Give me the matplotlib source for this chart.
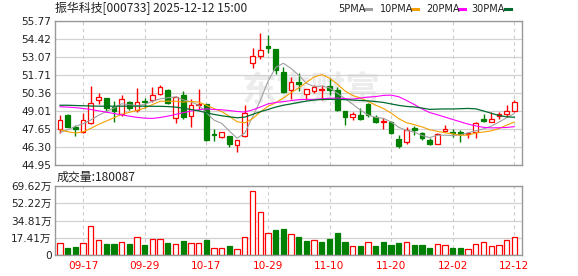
import matplotlib
matplotlib.use('Agg')
import matplotlib.pyplot as plt
from matplotlib.lines import Line2D

# --- data (振华科技 000733, daily, 2025-09-12 .. 2025-12-12) ---
date_ticks = [3, 11, 19, 27, 35, 43, 51, 59]
date_labels = ['09-17', '09-29', '10-17', '10-29', '11-10', '11-20', '12-02', '12-12']

opens = [47.63, 48.71, 47.80, 47.43, 48.08, 49.87, 49.96, 49.32, 48.80, 49.68,
	49.08, 49.77, 49.80, 50.32, 50.60, 48.46, 50.21, 48.60, 49.46, 49.53,
	47.25, 47.08, 47.13, 46.43, 47.13, 52.59, 53.14, 53.92, 53.67, 51.96,
	50.59, 51.21, 50.29, 50.53, 50.59, 50.86, 50.58, 49.01, 48.53, 48.71,
	49.51, 48.53, 48.18, 48.21, 46.90, 46.65, 47.71, 47.33, 46.83, 46.50,
	47.53, 47.46, 47.46, 47.25, 47.41, 48.41, 48.21, 48.66, 48.81, 49.03]
highs = [48.71, 48.77, 47.98, 48.83, 50.89, 50.36, 49.96, 49.77, 50.21, 49.73,
	50.71, 50.02, 50.83, 50.96, 50.66, 50.15, 50.52, 49.90, 50.64, 49.53,
	47.65, 47.45, 47.15, 46.83, 49.46, 53.72, 54.84, 54.72, 53.67, 52.34,
	51.59, 51.84, 50.66, 50.96, 50.96, 51.50, 50.84, 49.01, 48.96, 49.21,
	49.58, 48.71, 48.46, 48.28, 47.20, 47.83, 47.90, 47.45, 46.95, 47.33,
	47.96, 47.66, 47.58, 47.41, 48.16, 48.76, 48.96, 48.91, 49.46, 49.83]
lows = [47.33, 47.83, 47.13, 47.33, 48.03, 49.55, 48.96, 48.20, 48.60, 49.08,
	48.93, 49.21, 49.65, 50.21, 49.50, 48.10, 48.38, 47.80, 49.08, 46.78,
	46.78, 46.95, 46.33, 45.90, 47.08, 52.26, 52.89, 53.34, 51.76, 50.39,
	49.88, 50.53, 49.83, 50.33, 49.83, 50.20, 49.01, 47.96, 48.33, 48.33,
	48.58, 48.08, 47.65, 47.25, 46.20, 46.50, 47.20, 46.83, 46.45, 46.50,
	47.41, 47.08, 46.70, 46.95, 47.00, 48.21, 48.16, 48.41, 48.58, 48.96]
closes = [48.30, 47.83, 47.65, 48.30, 49.58, 50.05, 49.21, 49.03, 49.88, 49.22,
	49.71, 49.66, 50.21, 50.82, 49.60, 50.05, 48.58, 49.45, 49.53, 46.83,
	47.20, 47.40, 46.53, 46.83, 48.83, 53.14, 53.59, 53.72, 52.09, 50.46,
	51.21, 51.04, 50.66, 50.84, 50.64, 50.55, 49.08, 48.58, 48.76, 48.41,
	48.71, 48.21, 48.23, 47.33, 46.40, 47.58, 47.55, 47.00, 46.53, 47.25,
	47.63, 47.38, 47.25, 47.33, 48.08, 48.26, 48.41, 48.76, 49.01, 49.66]

ma5 = [47.40, 47.60, 47.85, 48.05, 48.33, 48.68, 48.96, 49.23, 49.55, 49.48,
	49.41, 49.50, 49.74, 49.92, 50.00, 50.07, 49.85, 49.70, 49.44, 48.89,
	48.32, 48.08, 47.50, 46.96, 47.36, 48.55, 49.78, 51.22, 52.27, 52.60,
	52.21, 51.70, 51.09, 50.84, 50.88, 50.75, 50.35, 49.94, 49.52, 49.08,
	48.71, 48.53, 48.46, 48.18, 47.78, 47.55, 47.42, 47.17, 47.01, 47.18,
	47.19, 47.16, 47.21, 47.37, 47.53, 47.66, 47.87, 48.17, 48.50, 48.82]
ma10 = [47.60, 47.45, 47.35, 47.45, 47.70, 48.00, 48.25, 48.50, 48.75, 48.91,
	49.05, 49.23, 49.49, 49.74, 49.74, 49.74, 49.68, 49.72, 49.68, 49.44,
	49.19, 48.97, 48.60, 48.20, 48.12, 48.43, 48.93, 49.36, 49.62, 49.98,
	50.38, 50.74, 51.16, 51.56, 51.74, 51.48, 51.03, 50.52, 50.18, 49.98,
	49.73, 49.44, 49.20, 48.85, 48.43, 48.13, 47.98, 47.82, 47.60, 47.48,
	47.37, 47.29, 47.19, 47.19, 47.36, 47.43, 47.51, 47.69, 47.94, 48.18]
ma20 = [49.33, 49.30, 49.26, 49.20, 49.12, 49.02, 48.92, 48.82, 48.72, 48.62,
	48.53, 48.47, 48.45, 48.52, 48.62, 48.75, 48.88, 49.00, 49.10, 49.17,
	49.12, 49.10, 49.04, 48.97, 48.93, 49.09, 49.30, 49.54, 49.65, 49.71,
	49.79, 49.86, 49.88, 49.88, 49.93, 49.96, 49.98, 49.94, 49.90, 49.98,
	50.05, 50.09, 50.18, 50.20, 50.08, 49.80, 49.50, 49.17, 48.89, 48.73,
	48.55, 48.37, 48.20, 48.02, 47.89, 47.78, 47.74, 47.75, 47.77, 47.83]
ma30 = [49.44, 49.44, 49.42, 49.40, 49.38, 49.37, 49.37, 49.37, 49.37, 49.37,
	49.37, 49.37, 49.36, 49.36, 49.34, 49.30, 49.22, 49.12, 49.02, 48.88,
	48.75, 48.65, 48.57, 48.50, 48.55, 48.75, 48.95, 49.12, 49.30, 49.44,
	49.54, 49.65, 49.75, 49.83, 49.87, 49.88, 49.88, 49.86, 49.83, 49.80,
	49.77, 49.72, 49.65, 49.54, 49.43, 49.35, 49.31, 49.23, 49.13, 49.15,
	49.16, 49.16, 49.18, 49.20, 49.17, 49.01, 48.84, 48.67, 48.57, 48.54]

# volume in 手, colour by close vs previous close (1 = up/red)
volumes = [118000, 74000, 81000, 118000, 296000, 148000, 111000, 111000, 128000, 111000,
	178000, 101000, 158000, 158000, 121000, 108000, 141000, 118000, 118000, 151000,
	67000, 67000, 91000, 57000, 178000, 643000, 431000, 219000, 252000, 262000,
	209000, 182000, 141000, 151000, 131000, 161000, 222000, 131000, 87000, 91000,
	128000, 91000, 131000, 101000, 118000, 128000, 101000, 101000, 74000, 108000,
	101000, 74000, 74000, 61000, 108000, 128000, 91000, 101000, 151000, 180087]
vol_up = [1, 0, 0, 1, 1, 1, 0, 0, 1, 0,
	1, 0, 1, 1, 0, 1, 0, 1, 1, 0,
	1, 1, 0, 1, 1, 1, 1, 1, 0, 0,
	1, 0, 0, 1, 0, 0, 0, 0, 1, 0,
	1, 0, 0, 0, 0, 1, 0, 0, 0, 1,
	1, 0, 0, 1, 1, 1, 1, 1, 1, 1]

price_ticks = [44.95, 46.30, 47.65, 49.01, 50.36, 51.71, 53.07, 54.42, 55.77]
vol_ticks = [0, 174050, 348100, 522150, 696200]
vol_tick_labels = ['0', '17.41万', '34.81万', '52.22万', '69.62万']

RED = '#ff0000'
GREEN = '#008000'
CJK = ['DejaVu Sans', 'Noto Sans CJK SC']

W, H = 578, 276
fig = plt.figure(figsize=(W / 100, H / 100), dpi=100)

def px_box(l, t, r, b):
	return [l / W, 1 - b / H, (r - l) / W, (b - t) / H]

ax1 = fig.add_axes(px_box(55, 21, 522, 165))
ax2 = fig.add_axes(px_box(55, 186, 522, 255))

x = list(range(len(closes)))

# watermark
ax1.text(0.55, 0.52, '东方财富', transform=ax1.transAxes, ha='center', va='center',
	fontsize=25, color='#ececec', family=['Noto Sans CJK SC'], weight='bold', zorder=0)

# candles
for i in x:
	up = closes[i] >= opens[i]
	col = RED if up else GREEN
	top = max(opens[i], closes[i])
	bot = min(opens[i], closes[i])
	ax1.vlines(i, lows[i], bot, color=col, lw=1.0, zorder=2)
	ax1.vlines(i, top, highs[i], color=col, lw=1.0, zorder=2)
	ax1.bar(i, max(top - bot, 0.01), bottom=bot, width=0.62,
		facecolor='white' if up else col, edgecolor=col, lw=0.9, zorder=2)

# moving averages
ax1.plot(x, ma5, color='#a0a0a0', lw=0.8, zorder=3)
ax1.plot(x, ma10, color='#f5a000', lw=0.8, zorder=3)
ax1.plot(x, ma20, color='#ff00ff', lw=0.8, zorder=3)
ax1.plot(x, ma30, color='#006b2f', lw=0.9, zorder=3)

# volume
for i in x:
	col = RED if vol_up[i] else GREEN
	ax2.bar(i, volumes[i], width=0.68, facecolor='white' if vol_up[i] else col,
		edgecolor=col, lw=0.9, zorder=2)

for ax in (ax1, ax2):
	ax.set_xlim(-0.65, 60.0)
	ax.set_xticks(date_ticks)
	ax.set_axisbelow(True)
	ax.grid(axis='y', color='#d2d2d2', lw=0.9, ls='-')
	ax.grid(axis='x', color='#cccccc', lw=0.8, ls=(0, (3, 3)))
	ax.tick_params(length=0, labelsize=7.6, pad=2.5, colors='#222222')
	for s in ax.spines.values():
		s.set_color('#999999')
		s.set_linewidth(1.0)

ax1.set_ylim(44.95, 55.77)
ax1.set_yticks(price_ticks)
ax1.set_yticklabels(['%.2f' % p for p in price_ticks])
ax1.set_xticklabels([])

ax2.set_ylim(0, 696200)
ax2.set_yticks(vol_ticks)
ax2.set_yticklabels(vol_tick_labels, family=CJK)
ax2.set_xticklabels(date_labels, color=RED)
ax2.tick_params(axis='x', pad=4, colors=RED)

# header texts
fig.text(55 / W, 1 - 8.5 / H, '振华科技[000733] 2025-12-12 15:00', va='center', ha='left',
	fontsize=8.6, family=['Noto Sans CJK SC', 'DejaVu Sans'], color='#222222')
fig.text(57 / W, 1 - 177.5 / H, '成交量:180087', va='center', ha='left',
	fontsize=8.6, family=['Noto Sans CJK SC', 'DejaVu Sans'], color='#222222')

# MA legend
legend = [('5PMA', '#a0a0a0', 338, 365), ('10PMA', '#f5a000', 380, 412),
	('20PMA', '#ff00ff', 426, 459), ('30PMA', '#006b2f', 471, 505)]
for label, col, tx, lx in legend:
	fig.text(tx / W, 1 - 9 / H, label, va='center', ha='left', fontsize=7,
		family='DejaVu Sans', color='#222222')
	fig.add_artist(Line2D([lx / W, (lx + 6) / W], [1 - 9 / H, 1 - 9 / H],
		color=col, lw=2.2, transform=fig.transFigure))

fig.savefig('out.png', dpi=100)
